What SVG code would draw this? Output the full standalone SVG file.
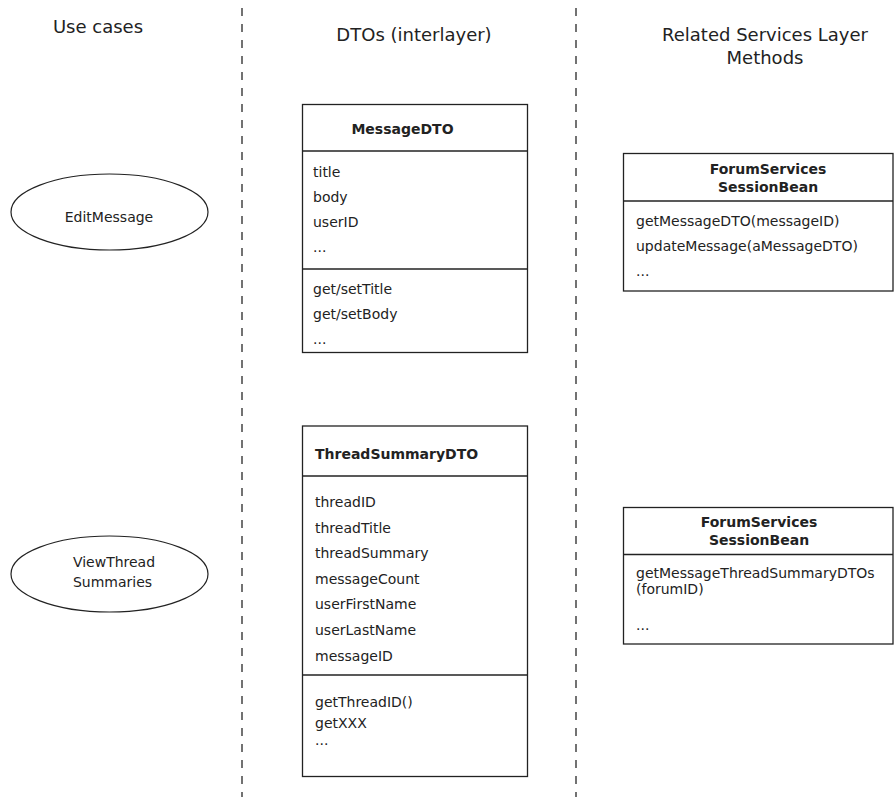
<svg xmlns="http://www.w3.org/2000/svg" width="894" height="797" viewBox="0 0 894 797">
<style>
text{font-family:"DejaVu Sans","Liberation Sans",sans-serif;fill:#222;}
.h{font-size:18px;text-anchor:middle;}
.t{font-size:14px;}
.b{font-size:14px;font-weight:bold;}
.c{text-anchor:middle;}
.box{fill:#fff;stroke:#222;stroke-width:1.3;}
.sep{stroke:#222;stroke-width:1.3;fill:none;}
.lane{stroke:#444;stroke-width:1.5;stroke-dasharray:8 8;fill:none;}
.uc{fill:#fff;stroke:#222;stroke-width:1.2;}
</style>
<rect width="894" height="797" fill="#fff"/>
<g id="lanes">
<line class="lane" x1="242" y1="8" x2="242" y2="797"/>
<line class="lane" x1="576" y1="8" x2="576" y2="797"/>
</g>
<g id="headers">
<text class="h" x="98" y="33">Use cases</text>
<text class="h" x="414" y="41">DTOs (interlayer)</text>
<text class="h" x="765" y="41">Related Services Layer</text>
<text class="h" x="765" y="64">Methods</text>
</g>
<g id="uc-editmessage">
<ellipse class="uc" cx="109.5" cy="212" rx="98.5" ry="38"/>
<text class="t c" x="109" y="222">EditMessage</text>
</g>
<g id="uc-viewthread">
<ellipse class="uc" cx="109.5" cy="574" rx="98.5" ry="38"/>
<text class="t c" x="114" y="567">ViewThread</text>
<text class="t c" x="112.5" y="587">Summaries</text>
</g>
<g id="messagedto">
<rect class="box" x="302.5" y="104.5" width="225" height="248"/>
<line class="sep" x1="302.5" y1="151" x2="527.5" y2="151"/>
<line class="sep" x1="302.5" y1="269" x2="527.5" y2="269"/>
<text class="b c" x="402.5" y="134">MessageDTO</text>
<text class="t" x="313" y="177">title</text>
<text class="t" x="313" y="202">body</text>
<text class="t" x="313" y="227">userID</text>
<text class="t" x="313" y="252">...</text>
<text class="t" x="313" y="294">get/setTitle</text>
<text class="t" x="313" y="319">get/setBody</text>
<text class="t" x="313" y="344">...</text>
</g>
<g id="threadsummarydto">
<rect class="box" x="302.5" y="426" width="225" height="350.5"/>
<line class="sep" x1="302.5" y1="476" x2="527.5" y2="476"/>
<line class="sep" x1="302.5" y1="675" x2="527.5" y2="675"/>
<text class="b" x="315" y="459">ThreadSummaryDTO</text>
<text class="t" x="315" y="507">threadID</text>
<text class="t" x="315" y="533">threadTitle</text>
<text class="t" x="315" y="558">threadSummary</text>
<text class="t" x="315" y="584">messageCount</text>
<text class="t" x="315" y="609">userFirstName</text>
<text class="t" x="315" y="635">userLastName</text>
<text class="t" x="315" y="661">messageID</text>
<text class="t" x="315" y="707">getThreadID()</text>
<text class="t" x="315" y="728">getXXX</text>
<text class="t" x="315" y="745">...</text>
</g>
<g id="forumservices-1">
<rect class="box" x="623.5" y="153.5" width="269.5" height="137.5"/>
<line class="sep" x1="623.5" y1="201" x2="893" y2="201"/>
<text class="b c" x="768" y="174">ForumServices</text>
<text class="b c" x="768" y="192">SessionBean</text>
<text class="t" x="636" y="226">getMessageDTO(messageID)</text>
<text class="t" x="636" y="251">updateMessage(aMessageDTO)</text>
<text class="t" x="636" y="276">...</text>
</g>
<g id="forumservices-2">
<rect class="box" x="623.5" y="507.5" width="269.5" height="136.5"/>
<line class="sep" x1="623.5" y1="554.5" x2="893" y2="554.5"/>
<text class="b c" x="759" y="527">ForumServices</text>
<text class="b c" x="759" y="545">SessionBean</text>
<text class="t" x="636" y="578">getMessageThreadSummaryDTOs</text>
<text class="t" x="636" y="594">(forumID)</text>
<text class="t" x="636" y="630">...</text>
</g>
<g id="connectors"/>
</svg>
